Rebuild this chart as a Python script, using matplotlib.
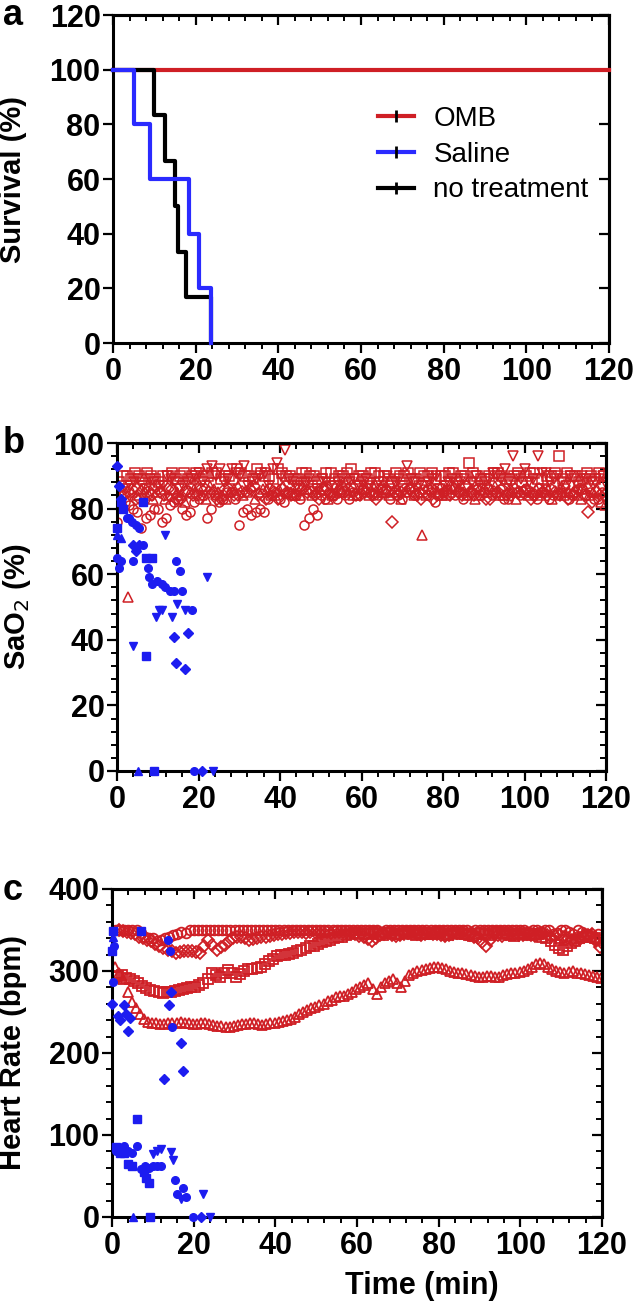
import numpy as np
import matplotlib
matplotlib.use('Agg')
import matplotlib.pyplot as plt
from matplotlib.lines import Line2D
from matplotlib.ticker import MultipleLocator, NullFormatter, NullLocator

plt.rcParams['font.family'] = ['Liberation Sans', 'DejaVu Sans']

RED = '#cf1f25'
BLUE = '#1c1cf0'
BLUE_LINE = '#2a2aff'

# ---- panel a: survival curves (step times in min, survival in %)
omb_t = [0, 120]
omb_s = [100, 100]
saline_t = [0, 5.1, 9.0, 18.4, 20.8, 23.7]
saline_s = [100, 80, 60, 40, 20, 0]
notx_t = [0, 10.0, 12.7, 14.9, 15.7, 17.6, 23.7]
notx_s = [100, 83.3, 66.7, 50, 33.3, 16.7, 0]

# ---- OMB animals: readings every 2 min (even + odd minute sets), small offset per animal
omb_offsets = {'o': 0.0, 's': 0.4, '^': 0.8, 'v': 1.2, 'D': 1.6}

omb_sao2 = {
    'o': [76, 82, 80, 74, 78, 80, 77, 82, 80, 79,
          83, 77, 84, 83, 85, 75, 80, 79, 79, 84,
          83, 85, 84, 75, 80, 84, 85, 83, 84, 85,
          86, 85, 84, 86, 85, 83, 86, 85, 84, 82,
          85, 86, 85, 84, 86, 85, 84, 86, 83, 85,
          86, 84, 85, 83, 84, 85, 84, 86, 85, 83],
    's': [88, 90, 91, 89, 90, 88, 90, 89, 91, 90,
          89, 90, 91, 90, 89, 91, 90, 92, 90, 89,
          91, 90, 89, 91, 90, 89, 91, 90, 91, 89,
          90, 91, 90, 89, 91, 90, 89, 91, 90, 89,
          90, 91, 90, 94, 90, 89, 91, 90, 89, 91,
          90, 91, 89, 90, 96, 91, 90, 89, 90, 91],
    '^': [83, 53, 84, 85, 83, 86, 84, 85, 82, 86,
          84, 87, 85, 83, 86, 84, 87, 85, 86, 84,
          87, 85, 84, 86, 85, 87, 84, 86, 85, 84,
          86, 87, 85, 84, 86, 85, 84, 72, 86, 85,
          84, 87, 85, 86, 84, 85, 87, 84, 86, 85,
          84, 86, 85, 83, 86, 85, 84, 86, 85, 82],
    'v': [85, 87, 89, 86, 88, 87, 89, 86, 88, 90,
          88, 93, 92, 89, 91, 93, 88, 90, 87, 94,
          98, 88, 87, 89, 86, 88, 87, 89, 88, 87,
          89, 86, 88, 87, 89, 93, 88, 87, 89, 86,
          88, 87, 89, 88, 87, 89, 90, 92, 96, 89,
          88, 96, 91, 89, 88, 90, 87, 89, 88, 90],
    'D': [84, 86, 83, 85, 87, 84, 86, 83, 85, 84,
          86, 85, 83, 86, 84, 85, 87, 84, 86, 83,
          85, 84, 86, 85, 83, 86, 84, 85, 87, 84,
          86, 83, 85, 76, 85, 86, 84, 85, 83, 86,
          84, 85, 87, 84, 86, 83, 85, 84, 86, 85,
          83, 86, 84, 85, 87, 84, 86, 79, 85, 84],
}
omb_sao2_odd = {
    'o': [84, 81, 79, 77, 80, 76, 81, 83, 78, 82,
          84, 80, 82, 85, 83, 79, 78, 80, 83, 85,
          82, 84, 83, 77, 78, 83, 84, 85, 83, 84,
          85, 84, 86, 83, 84, 85, 84, 86, 85, 84,
          86, 84, 83, 85, 84, 86, 85, 83, 85, 84,
          85, 83, 86, 84, 85, 83, 86, 84, 83, 85],
    's': [90, 89, 90, 91, 89, 90, 91, 90, 89, 91,
          90, 91, 89, 90, 92, 90, 89, 91, 90, 92,
          90, 89, 91, 90, 88, 91, 89, 90, 92, 90,
          89, 91, 90, 88, 90, 91, 89, 90, 91, 90,
          91, 89, 90, 91, 89, 90, 91, 89, 90, 88,
          91, 89, 90, 91, 89, 90, 88, 91, 89, 90],
    '^': [81, 85, 86, 84, 85, 83, 86, 84, 85, 87,
          83, 86, 84, 85, 87, 85, 83, 86, 84, 86,
          85, 84, 86, 84, 86, 83, 85, 87, 84, 86,
          84, 85, 86, 85, 83, 87, 85, 84, 86, 84,
          85, 86, 84, 83, 85, 86, 84, 85, 83, 86,
          85, 84, 86, 85, 84, 85, 83, 84, 86, 81],
    'v': [86, 88, 87, 89, 87, 90, 88, 87, 89, 91,
          92, 90, 88, 92, 90, 87, 89, 91, 92, 90,
          89, 87, 88, 86, 89, 87, 88, 86, 89, 88,
          87, 88, 90, 88, 86, 89, 87, 88, 90, 87,
          89, 88, 86, 90, 88, 91, 89, 88, 90, 92,
          89, 91, 88, 90, 87, 89, 90, 88, 89, 87],
    'D': [85, 83, 86, 84, 85, 86, 83, 85, 84, 86,
          85, 83, 86, 84, 85, 86, 84, 83, 85, 86,
          84, 86, 85, 84, 86, 84, 85, 86, 84, 85,
          84, 86, 85, 84, 86, 85, 83, 86, 84, 85,
          86, 84, 85, 86, 83, 85, 86, 84, 85, 86,
          84, 85, 86, 84, 83, 85, 84, 82, 84, 85],
}

omb_hr = {
    'o': [350, 350, 350, 350, 342, 340, 338, 342, 345, 346,
          350, 350, 350, 350, 350, 350, 350, 350, 350, 350,
          350, 350, 350, 350, 350, 350, 350, 350, 350, 350,
          350, 350, 350, 348, 350, 350, 350, 350, 350, 350,
          350, 350, 350, 350, 348, 350, 350, 350, 350, 350,
          350, 348, 350, 350, 345, 350, 348, 350, 345, 340],
    's': [293, 295, 290, 285, 279, 276, 273, 275, 277, 279,
          281, 285, 297, 293, 301, 293, 300, 303, 305, 312,
          318, 320, 322, 326, 330, 333, 336, 340, 342, 345,
          346, 345, 347, 344, 346, 345, 347, 344, 346, 345,
          347, 344, 346, 345, 343, 346, 344, 347, 345, 343,
          346, 344, 345, 340, 332, 326, 334, 340, 344, 340],
    '^': [305, 290, 262, 248, 238, 236, 235, 236, 238, 236,
          235, 237, 234, 233, 232, 234, 235, 236, 234, 236,
          238, 240, 244, 250, 255, 258, 263, 268, 270, 275,
          280, 285, 272, 285, 290, 280, 295, 300, 302, 305,
          304, 300, 298, 296, 294, 293, 294, 293, 296, 298,
          300, 305, 310, 305, 300, 298, 300, 297, 295, 293],
    'D': [350, 348, 345, 340, 336, 330, 326, 322, 324, 324,
          322, 338, 326, 332, 340, 342, 338, 340, 342, 344,
          345, 346, 348, 346, 347, 348, 346, 348, 347, 345,
          342, 336, 344, 346, 343, 345, 347, 344, 346, 345,
          343, 345, 347, 344, 340, 331, 345, 343, 346, 344,
          345, 343, 346, 342, 344, 340, 336, 342, 345, 329],
}
omb_hr_odd = {
    'o': [350, 350, 350, 346, 340, 336, 340, 344, 348, 350,
          350, 350, 350, 350, 350, 350, 350, 350, 350, 350,
          350, 350, 350, 350, 350, 350, 350, 350, 350, 350,
          350, 350, 350, 350, 350, 350, 350, 350, 350, 350,
          350, 350, 350, 350, 350, 350, 350, 350, 350, 350,
          350, 350, 348, 350, 346, 350, 345, 348, 342, 345],
    's': [294, 292, 288, 282, 277, 274, 274, 276, 278, 280,
          283, 290, 295, 298, 297, 296, 302, 304, 308, 315,
          319, 321, 324, 328, 331, 335, 338, 341, 344, 346,
          345, 346, 345, 346, 345, 346, 345, 346, 345, 346,
          345, 346, 345, 344, 345, 345, 346, 346, 344, 345,
          345, 345, 342, 336, 328, 330, 337, 342, 342, 338],
    '^': [298, 275, 255, 242, 237, 235, 236, 237, 237, 235,
          236, 235, 233, 232, 233, 235, 236, 235, 235, 237,
          239, 242, 247, 252, 256, 260, 265, 269, 272, 278,
          283, 278, 280, 288, 285, 288, 298, 301, 304, 305,
          302, 299, 297, 295, 293, 294, 293, 295, 297, 299,
          302, 308, 308, 302, 299, 299, 298, 296, 294, 292],
    'D': [349, 346, 342, 338, 333, 328, 324, 323, 324, 323,
          330, 332, 329, 336, 341, 340, 339, 341, 343, 345,
          346, 347, 347, 347, 348, 347, 347, 347, 346, 343,
          339, 340, 345, 344, 344, 346, 345, 345, 345, 344,
          344, 346, 345, 342, 335, 338, 344, 345, 345, 344,
          344, 345, 344, 343, 342, 338, 339, 344, 337, 332],
}

# ---- saline animals (filled blue), (time, value)
sal_sao2_t = {
    'o': [0, 0.6, 1.0, 2.4, 3.0, 3.6, 4.0, 4.7, 5.5, 6.3, 7.5, 7.9, 8.7, 9.9,
          11.1, 11.9, 13.1, 14.0, 14.4, 15.4, 16.0, 18.4, 18.8],
    's': [0, 1.0, 1.5, 6.3, 7.0, 8.7, 7.1, 9.1],
    '^': [0, 1.0, 5.1],
    'v': [3.9, 9.5, 10.2, 11.0, 11.8, 13.6, 14.8, 16.8, 22.2, 23.6],
    'D': [0, 0.5, 1.0, 3.9, 4.7, 5.5, 14.0, 14.4, 16.8, 17.4, 20.8],
}
sal_sao2 = {
    'o': [65, 62, 64, 77, 77, 76, 64, 75, 74, 69, 62, 59, 57, 58,
          57, 56, 55, 55, 64, 61, 55, 49, 0],
    's': [74, 82, 80, 82, 65, 65, 35, 0],
    '^': [72, 71, 0],
    'v': [38, 47, 49, 49, 72, 47, 51, 49, 59, 0],
    'D': [93, 87, 83, 69, 67, 69, 41, 33, 31, 42, 0],
}
sal_hr_t = {
    'o': [0.2, 0.6, 1.0, 2.0, 3.0, 4.0, 5.0, 6.0, 7.0, 8.0, 9.0, 10.0, 11.0,
          12.0, 13.8, 14.2, 14.6, 15.5, 16.0, 17.5, 18.0, 19.8],
    's': [0.0, 0.3, 1.0, 2.0, 3.0, 4.0, 5.0, 6.0, 7.2, 7.8, 8.4, 9.0, 9.4],
    '^': [0.2, 5.1],
    'v': [10.0, 10.9, 12.0, 14.5, 15.0, 17.0, 22.3, 24.0],
    'D': [0.0, 1.5, 2.0, 3.0, 3.5, 4.0, 4.5, 12.8, 14.0, 14.5, 17.0, 17.3, 21.7],
}
sal_hr = {
    'o': [287, 330, 81, 78, 87, 80, 78, 87, 58, 62, 60, 62, 62,
          62, 338, 324, 232, 45, 28, 35, 24, 0],
    's': [325, 349, 85, 78, 78, 65, 62, 120, 349, 55, 48, 42, 0],
    '^': [342, 0],
    'v': [77, 81, 83, 79, 69, 22, 28, 0],
    'D': [260, 245, 240, 258, 248, 227, 243, 168, 258, 274, 212, 178, 0],
}

fig = plt.figure(figsize=(6.37, 13.16), dpi=100)
H = 1316.0
W = 637.0


def make_ax(left, top, right, bottom):
    return fig.add_axes([left / W, 1 - bottom / H, (right - left) / W, (bottom - top) / H])


def style(ax, ymaj, ymin, yminor=True):
    for s in ax.spines.values():
        s.set_linewidth(2.2)
    ax.set_xlim(0, 120)
    ax.xaxis.set_major_locator(MultipleLocator(20))
    ax.xaxis.set_minor_locator(MultipleLocator(4))
    ax.yaxis.set_major_locator(MultipleLocator(ymaj))
    ax.yaxis.set_minor_locator(MultipleLocator(ymin) if yminor else NullLocator())
    ax.tick_params(which='major', direction='out', length=7, width=1.6)
    ax.tick_params(which='minor', direction='out', length=4.3, width=1.4)
    ax.tick_params(axis='y', pad=2)
    ax.tick_params(axis='x', pad=3)
    for lab in ax.get_xticklabels() + ax.get_yticklabels():
        lab.set_fontsize(22)
        lab.set_fontweight('bold')
    # mirrored ticks on top and right, pointing inward
    top = ax.secondary_xaxis('top')
    top.xaxis.set_major_locator(MultipleLocator(20))
    top.xaxis.set_minor_locator(MultipleLocator(4))
    top.xaxis.set_major_formatter(NullFormatter())
    top.tick_params(which='major', direction='in', length=7, width=1.6)
    top.tick_params(which='minor', direction='in', length=4.3, width=1.4)
    top.spines['top'].set_linewidth(2.2)
    right = ax.secondary_yaxis('right')
    right.yaxis.set_major_locator(MultipleLocator(ymaj))
    right.yaxis.set_minor_locator(MultipleLocator(ymin) if yminor else NullLocator())
    right.yaxis.set_major_formatter(NullFormatter())
    right.tick_params(which='major', direction='in', length=7, width=1.6)
    right.tick_params(which='minor', direction='in', length=4.3, width=1.4)
    right.spines['right'].set_linewidth(2.2)


# ---------------- panel a
ax1 = make_ax(113, 15, 609, 343)
ax1.step(omb_t, omb_s, where='post', color=RED, lw=3, clip_on=False, zorder=3)
ax1.step(notx_t, notx_s, where='post', color='black', lw=3, clip_on=False, zorder=4)
ax1.step(saline_t, saline_s, where='post', color=BLUE_LINE, lw=3, clip_on=False, zorder=5)
ax1.set_ylim(0, 120)
style(ax1, 20, 20, yminor=False)
ax1.set_ylabel('Survival (%)', fontsize=21, fontweight='bold')
ax1.yaxis.set_label_coords(-0.173, 0.5)
handles = [Line2D([], [], color=c, lw=3, marker='|', ms=9, mew=2, mec='black')
           for c in [RED, BLUE_LINE, 'black']]
ax1.legend(handles, ['OMB', 'Saline', 'no treatment'], loc='center left',
           bbox_to_anchor=(0.534, 0.574), frameon=False, fontsize=20,
           handlelength=1.3, handletextpad=0.7, labelspacing=0.35,
           borderpad=0, borderaxespad=0)

# ---------------- panel b
ax2 = make_ax(117, 443, 606, 771)
for m in omb_sao2:
    t = np.arange(0, 120, 2) + omb_offsets[m]
    ax2.plot(t, omb_sao2[m], ls='none', marker=m, ms=6.5 if m != 'D' else 6,
             mfc='none', mec=RED, mew=1.1)
    ax2.plot(t + 1, omb_sao2_odd[m], ls='none', marker=m, ms=6.5 if m != 'D' else 6,
             mfc='none', mec=RED, mew=1.1)
for m, vals in sal_sao2.items():
    ax2.plot(sal_sao2_t[m], vals, ls='none', marker=m, ms=5.5 if m != 'D' else 5,
             color=BLUE, clip_on=False, zorder=4)
ax2.set_ylim(0, 100)
style(ax2, 20, 4)
ax2.set_ylabel('SaO$_2$ (%)', fontsize=21, fontweight='bold')
ax2.yaxis.set_label_coords(-0.172, 0.5)

# ---------------- panel c
ax3 = make_ax(112, 889, 602, 1217)
for m in omb_hr:
    t = np.arange(0, 120, 2) + omb_offsets[m]
    ax3.plot(t, omb_hr[m], ls='none', marker=m, ms=7 if m != 'D' else 6.5,
             mfc='none', mec=RED, mew=1.3)
    ax3.plot(t + 1, omb_hr_odd[m], ls='none', marker=m, ms=7 if m != 'D' else 6.5,
             mfc='none', mec=RED, mew=1.3)
for m, vals in sal_hr.items():
    ax3.plot(sal_hr_t[m], vals, ls='none', marker=m, ms=5.5 if m != 'D' else 5,
             color=BLUE, clip_on=False, zorder=4)
ax3.set_ylim(0, 400)
style(ax3, 100, 20)
ax3.set_ylabel('Heart Rate (bpm)', fontsize=21, fontweight='bold')
ax3.yaxis.set_label_coords(-0.173, 0.5)
ax3.set_xlabel('Time (min)', fontsize=22, fontweight='bold')
ax3.xaxis.set_label_coords(0.633, -0.165)

fig.text(3 / W, 1 - 25 / H, 'a', fontsize=26, fontweight='bold')
fig.text(3 / W, 1 - 453 / H, 'b', fontsize=26, fontweight='bold')
fig.text(3 / W, 1 - 900 / H, 'c', fontsize=26, fontweight='bold')

fig.savefig('out.png', dpi=100)
